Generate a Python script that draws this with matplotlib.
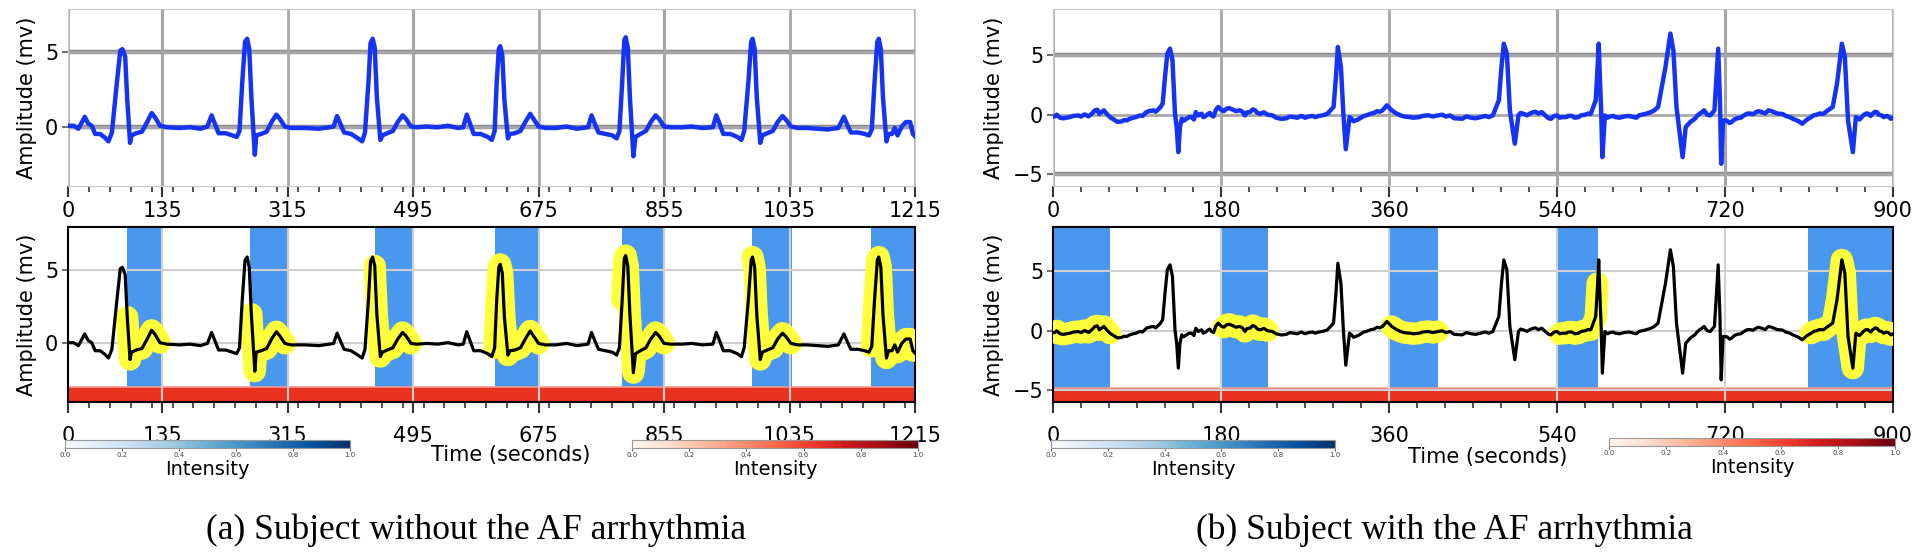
import numpy as np
import matplotlib
matplotlib.use("Agg")
import matplotlib.pyplot as plt
from matplotlib.cm import ScalarMappable
from matplotlib.colors import Normalize

# ---------------- data ----------------
ecg_a_t = [0, 8, 15, 24, 29, 34, 39, 46, 53, 58, 63, 70, 75, 78, 82, 85, 89, 91, 98, 106, 113, 120, 125, 132, 142,
           160, 175, 190, 200,
           206, 211, 216, 226, 236, 242, 246, 250, 254, 257, 260, 263, 268, 270, 277, 285, 292, 299, 304, 311, 320,
           340, 360, 375, 381,
           386, 391, 396, 406, 416, 422, 426, 431, 434, 437, 440, 443, 448, 451, 458, 466, 473, 480, 485, 492, 500,
           515, 530, 545, 560, 567,
           572, 577, 582, 592, 602, 608, 612, 615, 618, 620, 623, 626, 631, 634, 641, 649, 656, 663, 668, 675, 685,
           700, 715, 730, 746,
           751, 756, 761, 771, 781, 787, 791, 795, 798, 800, 803, 806, 811, 814, 821, 829, 836, 843, 848, 855, 865,
           880, 895, 910, 925,
           930, 935, 940, 950, 960, 966, 970, 976, 980, 982, 985, 988, 993, 996, 1003, 1011, 1018, 1025, 1030, 1037, 1047,
           1060, 1075, 1090, 1105,
           1113, 1118, 1123, 1133, 1143, 1149, 1153, 1157, 1161, 1163, 1166, 1169, 1174, 1177, 1182, 1186, 1190, 1196, 1202, 1208, 1212, 1215]
ecg_a_v = [0.05, 0.05, -0.15, 0.65, 0.2, 0.05, -0.5, -0.5, -0.75, -1.0, -0.4, 2.9, 5.1, 5.2, 4.7, 1.8, -1.1, -0.6, -0.45, -0.35, 0.25, 0.9, 0.6, 0.05, -0.05,
           -0.1, -0.05, -0.15, 0.0,
           0.75, 0.15, -0.45, -0.45, -0.6, -0.7, -0.3, 3.0, 5.7, 5.9, 5.2, 2.0, -1.9, -0.6, -0.5, -0.35, 0.3, 0.8, 0.5, 0.0, -0.1,
           -0.1, -0.15, -0.05, 0.0,
           0.7, 0.15, -0.4, -0.5, -0.8, -1.0, -0.4, 3.0, 5.6, 5.9, 5.3, 2.0, -0.9, -0.6, -0.45, -0.3, 0.3, 0.75, 0.5, 0.0, -0.05,
           0.0, -0.05, 0.05, -0.1, -0.05,
           0.8, 0.15, -0.5, -0.5, -0.7, -0.9, -0.3, 3.0, 5.2, 5.4, 4.8, 1.8, -0.8, -0.5, -0.45, -0.3, 0.3, 0.85, 0.5, 0.0, -0.1,
           -0.1, 0.0, -0.15, -0.05,
           0.75, 0.15, -0.4, -0.5, -0.6, -0.8, -0.3, 3.0, 5.8, 6.0, 5.3, 2.0, -2.0, -0.7, -0.5, -0.3, 0.3, 0.75, 0.5, 0.0, -0.05,
           -0.05, 0.0, -0.1, -0.05,
           0.75, 0.15, -0.5, -0.5, -0.7, -0.9, -0.3, 3.0, 5.7, 5.9, 5.2, 2.0, -1.1, -0.6, -0.45, -0.3, 0.3, 0.7, 0.45, 0.0, -0.1,
           -0.1, -0.15, -0.2, -0.1,
           0.65, 0.1, -0.4, -0.4, -0.5, -0.6, -0.2, 3.0, 5.7, 5.9, 5.2, 2.0, -1.0, -0.5, -0.5, -0.1, -0.6, 0.0, 0.3, 0.3, -0.5, -0.65]
spans_a = [(84, 133), (261, 314), (440, 495), (612, 676), (795, 856), (981, 1039), (1152, 1214)]
xticks_a = [0, 135, 315, 495, 675, 855, 1035, 1215]

ecg_b_t = [0, 2, 7.5, 18, 27, 34, 38, 41.5, 45, 47.5, 49.6, 52, 54.6, 57.5, 61, 66.4, 73.6, 79, 86, 93,
           100, 107.5, 114.6, 117.5, 120, 122.5, 125.4, 128, 130.7, 132.5, 134.3, 136, 138, 143, 148.6, 153, 155.7, 159.3, 163, 166.4,
           170, 174.6, 177, 180.7, 186, 193, 200, 205.7, 211, 216.4, 221.8,
           235, 244.8, 258, 274, 285, 294, 300.6, 303, 305.2, 308.5, 311.1, 313.7, 317.7, 322, 326.9, 333, 340, 347, 353.1, 357.7,
           362.9, 368, 372.7, 382, 392.5, 402, 412.2, 425.3, 438.4, 448, 458, 471.2, 477.7, 480.5, 483, 486.3, 489.5, 494.8, 498.7, 505,
           510.5, 517, 523.7, 528, 533.6, 537, 540.1, 545, 549.9, 556, 563, 570, 576.2, 581.5, 583.5, 584.7, 586, 587.3, 588.6, 591.3,
           597, 602.4, 612, 622.1, 628, 635.2, 648.3, 656.2, 661.5, 664.7, 668, 674.6, 677.9, 683, 687.7, 693, 697.6, 701, 704.1, 708.7,
           712.7, 714.6, 715.9, 717.9, 722, 727.1, 733, 740.2, 747, 753.3, 760, 766.5, 773, 779.5, 785, 789.4, 796, 802.6, 808, 812.3,
           818, 825.5, 835.4, 840, 845.2, 848.4, 851.8, 855, 857, 860.2, 864, 868.1, 873, 878, 883, 887.9, 893, 897.6, 900]
ecg_b_v = [-0.15, -0.14, -0.25, -0.2, -0.06, 0.03, -0.14, 0.08, 0.37, 0.42, 0.08, 0.22, 0.37, 0.08, -0.2, -0.48, -0.56, -0.48, -0.25, -0.06,
           0.22, 0.37, 0.59, 0.93, 3.17, 5.14, 5.56, 4.58, 0.08, -1.04, -3.15, -1.04, -0.34, -0.34, -0.2, 0.22, -0.06, 0.08, -0.14, 0.08,
           -0.06, 0.42, 0.65, 0.37, 0.51, 0.42, 0.37, -0.06, 0.22, 0.37, 0.08,
           -0.05, -0.35, -0.2, -0.15, -0.1, 0.08, 0.65, 3.0, 5.7, 4.0, 0.1, -2.9, -0.2, -0.55, -0.4, -0.1, 0.08, 0.3, 0.37, 0.79,
           0.37, 0.1, -0.06, -0.2, -0.2, -0.05, -0.06, -0.06, -0.34, -0.25, -0.2, -0.06, 1.21, 4.0, 5.98, 5.14, 0.37, -2.44, -0.06, 0.05,
           0.08, 0.25, 0.22, -0.1, -0.34, -0.1, -0.06, -0.2, -0.2, -0.1, -0.2, 0.0, 0.08, 1.21, 4.0, 5.98, 3.0, 0.37, -3.57, -0.06,
           -0.15, -0.2, -0.15, -0.2, -0.05, 0.08, 0.65, 4.0, 6.83, 5.42, 0.65, -3.57, -1.04, -0.6, -0.34, 0.1, 0.37, 0.0, -0.06, 0.37,
           5.56, 1.21, -4.13, -0.48, -0.5, -0.62, -0.3, -0.06, 0.1, 0.22, 0.2, 0.37, 0.2, 0.08, -0.1, -0.2, -0.45, -0.76, -0.4, -0.2,
           0.0, 0.08, 0.65, 2.61, 5.98, 4.86, -0.48, -2.16, -3.15, -0.2, -0.4, -0.06, 0.1, 0.08, 0.2, -0.06, -0.1, -0.34, -0.25]
# small wiggles (b)
ecg_b_wig_t = [4, 11, 22, 30, 63, 69, 76, 82, 89, 96, 103, 110, 140, 146, 151, 157, 161, 168, 172, 183, 189, 196, 203, 208,
               214, 219, 226, 230, 239, 250, 254, 262, 266, 270, 278, 281, 289, 320, 330, 336, 344, 350, 376, 386, 396, 407,
               417, 421, 430, 443, 453, 463, 467, 501, 508, 514, 520, 526, 531, 543, 552, 559, 566, 573, 594, 600, 607, 617,
               625, 631, 640, 644, 690, 695, 725, 730, 737, 744, 750, 756, 763, 770, 776, 782, 793, 799, 805, 815, 821, 829,
               866, 871, 876, 881, 885, 890, 895]
ecg_b_wig_v = [0.0, -0.3, -0.1, -0.15, -0.3, -0.6, -0.45, -0.35, -0.2, -0.1, 0.3, 0.25, -0.5, -0.2, -0.4, 0.0, -0.2, 0.15,
               -0.15, 0.3, 0.55, 0.3, 0.25, 0.2, 0.45, 0.15, 0.2, 0.0, -0.25, -0.3, -0.15, -0.25, -0.1, -0.25, -0.1, -0.2,
               -0.05, -0.35, -0.25, -0.05, 0.15, 0.25, -0.15, -0.25, -0.1, -0.15, 0.0, -0.15, -0.3, -0.15, -0.3, -0.1, -0.2,
               0.15, -0.05, 0.2, 0.1, 0.05, -0.3, -0.25, -0.1, -0.25, -0.05, 0.1, -0.25, -0.1, -0.25, -0.1, -0.25, 0.0, 0.2,
               0.35, -0.1, 0.2, -0.7, -0.4, -0.25, 0.1, 0.05, 0.3, 0.1, 0.3, 0.1, 0.05, -0.35, -0.55, -0.6, -0.05, 0.1, 0.3,
               -0.25, 0.1, -0.1, 0.25, 0.0, -0.2, -0.15]
spans_b = [(0, 61), (181, 230), (360, 413), (541, 584), (809, 900)]
xticks_b = [0, 180, 360, 540, 720, 900]

cbar_ticks = [0.0, 0.2, 0.4, 0.6, 0.8, 1.0]
captions = ["(a) Subject without the AF arrhythmia", "(b) Subject with the AF arrhythmia"]

# ---------------- figure ----------------
W, H = 1920, 553
fig = plt.figure(figsize=(W / 100, H / 100), dpi=100)
plt.rcParams['font.family'] = ['DejaVu Sans']

BLUE_LINE = '#1533f2'
SPAN_BLUE = '#4a97ef'
RED_BAR = '#e8321f'
YELLOW = '#ffff3c'


def px_axes(x0, x1, ytop, ybot):
    return fig.add_axes([x0 / W, 1 - ybot / H, (x1 - x0) / W, (ybot - ytop) / H])


def style_ticks(ax, xmax, xticks, yticks, spine_color, xpad):
    ax.set_xlim(0, xmax)
    ax.set_xticks(xticks)
    ax.set_xticks(np.arange(0, xmax + 1, 30), minor=True)
    ax.set_yticks(yticks)
    ax.set_yticklabels([('\u2212%d' % -y) if y < 0 else '%d' % y for y in yticks])
    ax.tick_params(axis='x', which='major', length=8, width=1.5, color='#333333', labelsize=15, pad=xpad)
    ax.tick_params(axis='x', which='minor', length=4, width=1.2, color='#333333')
    ax.tick_params(axis='y', which='major', length=4, width=1.2, color='#555555', labelsize=15, pad=3)
    for s in ax.spines.values():
        s.set_color(spine_color)


def top_panel(x0, x1, ylim, t, v, xmax, xticks, yticks, dark_v, dark_h):
    ax = px_axes(x0, x1, 9, 186)
    ax.plot(t, v, color=BLUE_LINE, lw=3.2, solid_joinstyle='round', zorder=3)
    ax.set_ylim(*ylim)
    style_ticks(ax, xmax, xticks, yticks, '#c8c8c8', 3)
    ax.grid(True, which='major', color='#a8a8a8', lw=2)
    for x in dark_v:
        ax.axvline(x, color='#808080', lw=2.2, zorder=1)
    for y in dark_h:
        ax.axhline(y, color='#8a8a8a', lw=3.2, zorder=1)
    ax.set_ylabel('Amplitude (mv)', fontsize=15, labelpad=6)
    return ax


def bottom_panel(x0, x1, ylim, red_top, t, v, spans, xmax, xticks, yticks):
    ax = px_axes(x0, x1, 227, 402)
    ylo, yhi = ylim
    ax.set_ylim(ylo, yhi)
    ax.set_axisbelow('line')
    ax.axhspan(ylo, red_top, color=RED_BAR, lw=0, zorder=1)
    ax.axhline(red_top, color='#f29a90', lw=1.2, zorder=1.2)
    frac = (red_top - ylo) / (yhi - ylo)
    tt = np.asarray(t)
    vv = np.asarray(v)
    for a, b in spans:
        ax.axvspan(a, b, ymin=frac, ymax=1, color=SPAN_BLUE, lw=0, zorder=1)
    for a, b in spans:
        m = (tt >= a) & (tt <= b)
        ax.plot(tt[m], vv[m], color=YELLOW, lw=16, solid_capstyle='round',
                solid_joinstyle='round', zorder=3)
    ax.plot(tt, vv, color='black', lw=2.3, solid_joinstyle='round', zorder=4)
    style_ticks(ax, xmax, xticks, yticks, 'black', 9)
    ax.grid(True, which='major', color='#cfcfcf', lw=1.5)
    for s in ax.spines.values():
        s.set_linewidth(1.5)
    ax.set_ylabel('Amplitude (mv)', fontsize=15, labelpad=6)
    return ax


def colorbar(x0, x1, ytop, ybot, cmap):
    cax = px_axes(x0, x1, ytop, ybot)
    cb = fig.colorbar(ScalarMappable(Normalize(0, 1), cmap=cmap), cax=cax,
                      orientation='horizontal', ticks=cbar_ticks)
    cb.ax.tick_params(labelsize=5, length=2, width=0.6, pad=1, colors='#444444')
    cb.outline.set_edgecolor('#999999')
    cb.outline.set_linewidth(0.8)
    cb.set_label('Intensity', fontsize=14, labelpad=1)
    return cb


n_a = min(len(ecg_a_t), len(ecg_a_v))
ta, va = ecg_a_t[:n_a], ecg_a_v[:n_a]

n_b = min(len(ecg_b_t), len(ecg_b_v))
n_w = min(len(ecg_b_wig_t), len(ecg_b_wig_v))
tb_all = np.array(list(ecg_b_t[:n_b]) + list(ecg_b_wig_t[:n_w]), dtype=float)
vb_all = np.array(list(ecg_b_v[:n_b]) + list(ecg_b_wig_v[:n_w]), dtype=float)
order = np.argsort(tb_all, kind='stable')
tb, vb = tb_all[order], vb_all[order]

# left (a)
top_panel(68, 915, (-4.0, 7.9), ta, va, 1215, xticks_a, [0, 5], [135, 495, 855], [0, 5])
bottom_panel(68, 915, (-4.0, 7.95), -3.0, ta, va, spans_a, 1215, xticks_a, [0, 5])
colorbar(65, 350, 440, 448, 'Blues')
colorbar(632, 918, 440, 448, 'Reds')
fig.text(511 / W, 1 - 455 / H, 'Time (seconds)', fontsize=15, ha='center', va='center')
fig.text(476 / W, 1 - 530 / H, captions[0], family='Liberation Serif', fontsize=25.5, ha='center', va='center')

# right (b)
top_panel(1053, 1893, (-6.0, 8.9), tb, vb, 900, xticks_b, [-5, 0, 5], [540, 720], [-5, 5])
bottom_panel(1053, 1893, (-6.0, 8.75), -4.85, tb, vb, spans_b, 900, xticks_b, [-5, 0, 5])
colorbar(1051, 1335, 440, 448, 'Blues')
colorbar(1609, 1895, 438, 446, 'Reds')
fig.text(1488 / W, 1 - 457 / H, 'Time (seconds)', fontsize=15, ha='center', va='center')
fig.text(1444 / W, 1 - 530 / H, captions[1], family='Liberation Serif', fontsize=25.5, ha='center', va='center')

fig.savefig('out.png', dpi=100)
